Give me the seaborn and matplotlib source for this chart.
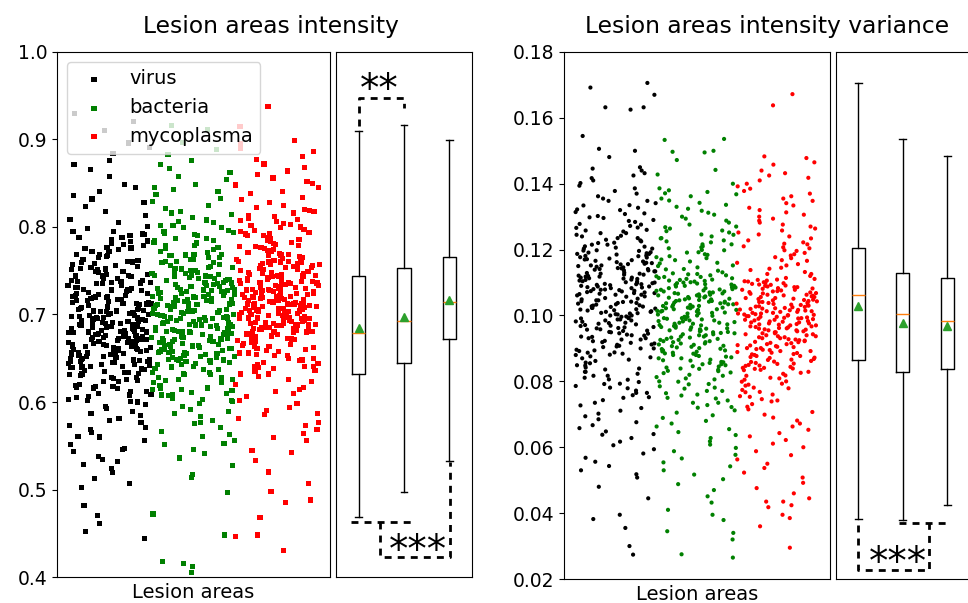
import numpy as np
import pandas as pd
import matplotlib
matplotlib.use("Agg")
import matplotlib.pyplot as plt
import seaborn as sns

groups = ["virus", "bacteria", "mycoplasma"]
colors = ["black", "green", "red"]

# lesion area intensity (thousandths)
# full spread of each strip
int_virus = [930, 921, 910, 896, 891, 884, 876, 871, 866, 858, 849, 845, 841, 836, 832, 828, 823, 818, 813, 809,
             805, 801, 798, 795, 791, 788, 786, 783, 780, 777, 775, 772, 769, 767, 765, 762, 760, 758, 756, 754,
             752, 751, 749, 748, 746, 745, 744, 779, 763, 790,
             743, 741, 738, 737, 735, 733, 731, 729, 728, 726, 724, 722, 721, 719, 717, 716, 714, 712, 711, 709,
             707, 706, 704, 703, 701, 700, 698, 697, 695, 694, 693, 691, 690, 689, 688, 686, 685, 684, 683, 682,
             681, 680, 739, 727, 718, 708, 699, 692, 687, 713,
             679, 677, 676, 674, 673, 672, 670, 669, 668, 666, 665, 664, 662, 661, 660, 659, 657, 656, 655, 653,
             652, 651, 650, 648, 647, 646, 645, 643, 642, 641, 640, 638, 637, 636, 635, 634, 633, 632, 675, 667,
             658, 649, 639, 671, 663, 654, 644, 678, 660, 646,
             631, 628, 626, 623, 620, 618, 615, 612, 609, 606, 603, 600, 597, 593, 589, 585, 581, 577, 573, 569,
             565, 561, 556, 551, 547, 543, 538, 534, 529, 524, 519, 513, 507, 502, 482, 470, 461, 452, 444, 625,
             617, 610, 602, 595, 587, 579, 571, 560, 546, 532]
int_bacteria = [916, 911, 897, 889, 883, 876, 871, 867, 862, 858, 854, 849, 845, 841, 837, 833, 829, 825, 821, 818,
                814, 811, 808, 805, 802, 799, 796, 793, 790, 787, 785, 782, 779, 777, 774, 772, 769, 767, 765, 763,
                761, 759, 757, 755, 754, 843, 816, 795, 781, 768,
                752, 750, 749, 747, 745, 744, 742, 740, 739, 737, 735, 734, 732, 731, 729, 727, 726, 724, 723, 721,
                720, 718, 717, 715, 714, 712, 711, 709, 708, 706, 705, 704, 702, 701, 700, 699, 698, 697, 696, 695,
                694, 746, 736, 728, 719, 710, 703, 741, 716, 725,
                693, 691, 690, 689, 687, 686, 685, 683, 682, 681, 679, 678, 677, 675, 674, 673, 671, 670, 669, 667,
                666, 665, 663, 662, 661, 659, 658, 657, 655, 654, 653, 651, 650, 649, 648, 647, 646, 645, 644, 688,
                676, 664, 652, 684, 672, 660, 692, 680, 668, 656,
                643, 640, 637, 634, 631, 628, 625, 622, 619, 616, 613, 610, 607, 604, 601, 598, 595, 591, 587, 583,
                579, 575, 571, 566, 561, 556, 551, 546, 541, 536, 527, 517, 514, 497, 472, 448, 418, 415, 412, 405,
                638, 626, 614, 602, 589, 577, 563, 553, 632, 608]
int_myco = [938, 915, 899, 895, 890, 886, 881, 877, 872, 868, 864, 860, 856, 852, 848, 845, 841, 838, 834, 831,
            828, 825, 822, 819, 816, 813, 810, 807, 804, 802, 799, 797, 794, 792, 790, 787, 785, 783, 781, 779,
            777, 775, 773, 771, 769, 767, 850, 820, 796, 778,
            765, 764, 763, 761, 760, 759, 758, 756, 755, 754, 753, 751, 750, 749, 748, 746, 745, 744, 742, 741,
            740, 739, 737, 736, 735, 733, 732, 731, 730, 728, 727, 726, 725, 724, 723, 722, 721, 720, 719, 718,
            717, 716, 715, 757, 747, 738, 729, 762, 743, 734,
            714, 713, 712, 711, 710, 709, 708, 707, 706, 705, 704, 703, 702, 701, 700, 699, 698, 697, 696, 695,
            694, 693, 692, 691, 690, 689, 688, 687, 686, 685, 684, 683, 682, 681, 680, 679, 678, 677, 676, 675,
            674, 673, 672, 711, 701, 690, 680, 707, 695, 685,
            671, 668, 665, 662, 659, 656, 653, 650, 647, 644, 641, 638, 635, 632, 629, 626, 623, 620, 617, 614,
            610, 606, 602, 598, 594, 590, 586, 581, 577, 573, 569, 564, 559, 556, 545, 542, 533, 520, 507, 498,
            488, 485, 468, 448, 446, 430, 660, 640, 612, 587]
# extra points in the crowded middle of each strip
int_virus_core = [601, 795, 612, 784, 623, 772, 634, 761, 641, 753, 648, 746, 652, 741, 657, 737, 661, 733, 664, 729,
                  667, 725, 670, 722, 673, 719, 676, 716, 678, 713, 681, 710, 683, 707, 686, 704, 688, 701, 690, 699,
                  692, 697, 694, 696, 605, 788, 616, 776, 627, 766, 637, 757, 645, 749, 650, 743, 655, 739, 659, 735,
                  662, 731, 666, 727, 669, 723, 672, 720, 675, 717, 677, 714, 680, 711, 682, 708, 685, 705, 687, 702,
                  689, 700, 691, 698, 693, 695, 608, 781, 619, 769, 630, 759, 639, 751, 646, 744, 654, 738, 663, 730,
                  671, 721, 679, 712, 684, 703, 618, 792, 628, 774, 643, 755, 658, 736, 668, 724, 674, 715, 686, 706]
int_bacteria_core = [603, 806, 614, 794, 626, 782, 637, 771, 645, 763, 652, 756, 658, 750, 663, 745, 667, 741, 671, 737,
                     675, 733, 678, 730, 681, 727, 684, 724, 687, 721, 690, 718, 693, 715, 696, 712, 699, 709, 701, 707,
                     703, 705, 608, 799, 619, 787, 631, 776, 641, 767, 649, 759, 655, 753, 661, 747, 665, 743, 669, 739,
                     673, 735, 677, 731, 680, 728, 683, 725, 686, 722, 689, 719, 692, 716, 695, 713, 698, 710, 700, 708,
                     702, 706, 611, 791, 622, 779, 634, 769, 643, 761, 651, 754, 657, 748, 666, 740, 674, 732, 682, 723,
                     688, 717, 697, 711, 616, 802, 628, 785, 647, 765, 660, 744, 670, 734, 679, 726, 691, 714]
int_myco_core = [632, 818, 641, 806, 650, 795, 658, 786, 664, 778, 670, 771, 675, 765, 679, 760, 683, 756, 687, 752,
                 690, 748, 693, 745, 696, 742, 699, 739, 702, 736, 704, 733, 707, 730, 709, 728, 711, 725, 713, 723,
                 715, 720, 717, 719, 636, 812, 645, 800, 654, 790, 661, 782, 667, 774, 672, 768, 677, 762, 681, 758,
                 685, 754, 688, 750, 692, 747, 695, 743, 698, 740, 700, 737, 703, 734, 706, 731, 708, 729, 710, 726,
                 712, 724, 714, 721, 716, 718, 639, 803, 648, 792, 656, 780, 663, 772, 669, 766, 676, 761, 684, 753,
                 691, 746, 697, 738, 705, 732, 643, 809, 653, 788, 666, 770, 680, 757, 689, 744, 701, 735, 712, 727]

# lesion area intensity variance (ten-thousandths)
var_virus = [1706, 1692, 1670, 1632, 1625, 1632, 1545, 1506, 1500, 1481, 1450, 1446, 1440, 1432, 1425, 1417, 1410,
             1402, 1394, 1386, 1378, 1370, 1362, 1355, 1348, 1341, 1334, 1327, 1320, 1314, 1308, 1302, 1296, 1290,
             1284, 1278, 1272, 1266, 1260, 1255, 1250, 1245, 1240, 1235, 1230, 1225, 1220, 1215, 1210, 1206,
             1203, 1198, 1196, 1191, 1189, 1185, 1181, 1180, 1176, 1171, 1170, 1166, 1162, 1159, 1157, 1152, 1150,
             1146, 1143, 1139, 1137, 1134, 1129, 1127, 1124, 1120, 1118, 1113, 1111, 1108, 1104, 1101, 1099, 1095,
             1092, 1088, 1086, 1083, 1079, 1077, 1074, 1071, 1068, 1066, 1063, 1187, 1141, 1096, 1155, 1115,
             1061, 1057, 1053, 1049, 1046, 1042, 1038, 1034, 1030, 1027, 1023, 1019, 1015, 1011, 1007, 1004, 1000,
             996, 992, 988, 985, 981, 977, 973, 969, 965, 962, 958, 954, 950, 946, 942, 939, 935, 931, 927, 923,
             919, 915, 912, 908, 904, 900, 896, 892, 888, 884, 880, 876, 870,
             862, 855, 848, 842, 836, 829, 823, 817, 811, 805, 798, 792, 786, 779, 772, 765, 758, 750, 743, 735,
             727, 719, 711, 702, 694, 685, 676, 667, 658, 648, 638, 628, 617, 606, 594, 581, 568, 556, 543, 530,
             518, 508, 480, 445, 395, 382, 355, 300, 274, 640]
var_bacteria = [1536, 1533, 1500, 1495, 1497, 1472, 1442, 1428, 1400, 1386, 1380, 1375, 1371, 1368, 1362, 1355,
                1349, 1342, 1336, 1330, 1324, 1318, 1312, 1306, 1300, 1294, 1288, 1282, 1276, 1270, 1264, 1258,
                1252, 1246, 1240, 1234, 1228, 1222, 1216, 1210, 1204, 1198, 1192, 1186, 1180, 1174, 1168, 1160,
                1150, 1140,
                1128, 1125, 1122, 1119, 1117, 1114, 1111, 1108, 1106, 1103, 1100, 1098, 1095, 1093, 1090, 1088,
                1085, 1083, 1080, 1078, 1075, 1073, 1070, 1068, 1066, 1063, 1061, 1058, 1056, 1054, 1051, 1049,
                1046, 1044, 1042, 1039, 1037, 1034, 1032, 1029, 1027, 1024, 1022, 1019, 1017, 1014, 1012, 1009,
                1007, 1006,
                1003, 999, 996, 992, 989, 985, 982, 978, 975, 971, 968, 964, 961, 957, 954, 950, 947, 943, 940,
                936, 933, 929, 926, 922, 919, 915, 912, 908, 905, 901, 898, 894, 891, 887, 884, 880, 877, 873,
                870, 866, 863, 859, 856, 852, 849, 845, 842, 838, 835, 831,
                827, 820, 813, 806, 799, 792, 785, 778, 771, 764, 757, 750, 742, 735, 728, 720, 712, 705, 697,
                689, 680, 672, 663, 655, 646, 637, 628, 618, 608, 598, 588, 577, 566, 554, 542, 530, 517, 503,
                488, 470, 451, 432, 410, 395, 379, 345, 340, 320, 275, 265]
var_myco = [1672, 1638, 1483, 1478, 1465, 1458, 1440, 1432, 1425, 1418, 1410, 1400, 1392, 1385, 1378, 1370, 1362,
            1355, 1348, 1341, 1334, 1327, 1320, 1313, 1306, 1300, 1294, 1288, 1282, 1276, 1270, 1264, 1258, 1252,
            1246, 1240, 1234, 1228, 1222, 1216, 1210, 1204, 1198, 1190, 1182, 1174, 1166, 1156, 1142, 1126,
            1111, 1108, 1106, 1103, 1101, 1098, 1096, 1093, 1091, 1088, 1086, 1083, 1081, 1078, 1076, 1073, 1071,
            1068, 1066, 1063, 1061, 1058, 1056, 1053, 1051, 1048, 1046, 1043, 1041, 1038, 1036, 1033, 1031, 1028,
            1026, 1023, 1021, 1018, 1016, 1013, 1011, 1008, 1006, 1003, 1001, 998, 996, 993, 990, 987,
            982, 979, 976, 973, 970, 967, 964, 961, 958, 955, 952, 949, 946, 943, 940, 937, 934, 931, 928, 925,
            922, 919, 916, 913, 910, 907, 904, 901, 898, 895, 892, 889, 886, 883, 880, 877, 874, 871, 868, 865,
            862, 859, 856, 853, 850, 847, 844, 841, 839, 838,
            835, 829, 823, 817, 811, 805, 799, 793, 787, 781, 774, 767, 760, 753, 746, 739, 731, 723, 715, 707,
            699, 690, 681, 672, 663, 653, 643, 633, 622, 611, 600, 588, 576, 563, 550, 537, 523, 508, 492, 476,
            460, 445, 435, 435, 424, 418, 395, 385, 360, 295]
var_virus_core = [752, 1348, 781, 1322, 806, 1298, 829, 1276, 849, 1258, 866, 1242, 881, 1228, 894, 1215, 906, 1203,
                  917, 1192, 927, 1182, 936, 1173, 945, 1164, 953, 1156, 961, 1148, 968, 1141, 975, 1134, 982, 1127,
                  988, 1121, 994, 1115, 1000, 1109, 1006, 1103, 1011, 1098, 1016, 1093, 1021, 1088, 1026, 1083,
                  1031, 1078, 1036, 1073, 1041, 1068, 1046, 1063, 1051, 1058, 765, 1335, 793, 1310, 817, 1287, 839,
                  1267, 857, 1250, 873, 1235, 887, 1221, 900, 1209, 911, 1197, 922, 1187, 931, 1177, 940, 1168, 949,
                  1160, 957, 1152, 964, 1144, 971, 1137, 978, 1130, 985, 1124, 991, 1118, 997, 1112, 1003, 1106,
                  1008, 1100, 1013, 1095, 1018, 1090, 1023, 1085, 1028, 1080, 1033, 1075, 1038, 1070, 1043, 1065]
var_bacteria_core = [722, 1268, 748, 1245, 771, 1225, 791, 1207, 809, 1191, 825, 1177, 839, 1164, 852, 1152, 864,
                     1141, 875, 1131, 885, 1122, 894, 1113, 903, 1105, 911, 1097, 919, 1090, 926, 1083, 933, 1076,
                     940, 1070, 946, 1064, 952, 1058, 958, 1052, 963, 1047, 968, 1042, 973, 1037, 978, 1032, 983,
                     1027, 988, 1022, 992, 1017, 996, 1012, 1000, 1008, 735, 1256, 760, 1235, 781, 1216, 800, 1199,
                     817, 1184, 832, 1170, 846, 1158, 858, 1146, 870, 1136, 880, 1126, 890, 1117, 899, 1109, 907,
                     1101, 915, 1094, 922, 1086, 929, 1079, 936, 1073, 943, 1067, 949, 1061, 955, 1055, 960, 1049,
                     965, 1044, 970, 1039, 975, 1034, 980, 1029, 985, 1024, 990, 1019, 994, 1014]
var_myco_core = [742, 1218, 768, 1196, 790, 1177, 809, 1160, 826, 1145, 841, 1132, 854, 1120, 866, 1109, 877, 1099,
                 887, 1090, 896, 1082, 905, 1074, 913, 1067, 920, 1060, 927, 1053, 934, 1047, 940, 1041, 946, 1035,
                 952, 1030, 957, 1025, 962, 1020, 967, 1015, 972, 1011, 976, 1006, 981, 1002, 985, 998, 989, 994,
                 755, 1207, 779, 1186, 800, 1168, 818, 1152, 834, 1138, 848, 1126, 860, 1114, 872, 1104, 882, 1094,
                 892, 1086, 901, 1078, 909, 1070, 917, 1063, 924, 1056, 931, 1050, 937, 1044, 943, 1038, 949, 1032,
                 955, 1027, 960, 1022, 965, 1017, 970, 1013, 974, 1008, 979, 1004, 983, 1000, 987, 996, 991, 992]

# box plot summaries
int_whislo = [0.469, 0.497, 0.533]
int_q1 = [0.632, 0.644, 0.672]
int_med = [0.679, 0.693, 0.714]
int_mean = [0.685, 0.697, 0.716]
int_q3 = [0.744, 0.753, 0.766]
int_whishi = [0.910, 0.916, 0.899]

var_whislo = [0.0382, 0.0379, 0.0424]
var_q1 = [0.0865, 0.0829, 0.0837]
var_med = [0.1062, 0.1005, 0.0984]
var_mean = [0.1030, 0.0976, 0.0969]
var_q3 = [0.1204, 0.1130, 0.1113]
var_whishi = [0.1706, 0.1536, 0.1483]


def long_df(vals, scale):
    return pd.DataFrame({"group": np.repeat(groups, [len(v) for v in vals]),
                         "value": np.concatenate(vals) / scale})


def box_stats(lo, q1, med, mean, q3, hi):
    return [dict(whislo=a, q1=b, med=c, mean=d, q3=e, whishi=f, fliers=[])
            for a, b, c, d, e, f in zip(lo, q1, med, mean, q3, hi)]


df_int = long_df([int_virus + int_virus_core, int_bacteria + int_bacteria_core,
                  int_myco + int_myco_core], 1000.0)
df_var = long_df([var_virus + var_virus_core, var_bacteria + var_bacteria_core,
                  var_myco + var_myco_core], 10000.0)

fig = plt.figure(figsize=(9.68, 6.03), dpi=100)
ax1 = fig.add_axes([0.0589, 0.0431, 0.2820, 0.8707])
ax1b = fig.add_axes([0.3471, 0.0431, 0.1405, 0.8707])
ax2 = fig.add_axes([0.5826, 0.0398, 0.2748, 0.8740])
ax2b = fig.add_axes([0.8636, 0.0398, 0.1379, 0.8740])

dash = (0, (2.5, 2.2))
np.random.seed(7)

# left: intensity
sns.stripplot(data=df_int, x="group", y="value", hue="group", order=groups, hue_order=groups,
              palette=colors, jitter=0.5, marker="s", size=3.7, linewidth=0, ax=ax1, legend=False)
ax1.set_xlim(-0.63, 2.63)
ax1.set_ylim(0.4, 1.0)
ax1.set_yticks([0.4, 0.5, 0.6, 0.7, 0.8, 0.9, 1.0])
ax1.set_yticklabels(["0.4", "0.5", "0.6", "0.7", "0.8", "0.9", "1.0"])
ax1.set_xticks([])
ax1.set_ylabel("")
ax1.set_xlabel("Lesion areas", fontsize=14)
ax1.tick_params(labelsize=13.5)
ax1.legend(ax1.collections[:3], groups, loc="upper left", fontsize=14)

ax1b.bxp(box_stats(int_whislo, int_q1, int_med, int_mean, int_q3, int_whishi),
         positions=[1, 2, 3], widths=0.3, showmeans=True, showfliers=False)
ax1b.set_xlim(0.5, 3.5)
ax1b.set_ylim(0.4, 1.0)
ax1b.set_xticks([])
ax1b.set_yticks([])
ax1b.plot([1, 1, 2, 2], [0.915, 0.947, 0.947, 0.936], color="k", lw=2, ls=dash)
ax1b.text(1.45, 0.957, "**", ha="center", va="center", fontsize=28)
ax1b.plot([0.83, 2.2], [0.463, 0.463], color="k", lw=2, ls=dash)
ax1b.plot([1.48, 1.48, 3.02, 3.02], [0.463, 0.4225, 0.4225, 0.532], color="k", lw=2, ls=dash)
ax1b.text(2.30, 0.4295, "***", ha="center", va="center", fontsize=28)

# right: intensity variance
sns.stripplot(data=df_var, x="group", y="value", hue="group", order=groups, hue_order=groups,
              palette=colors, jitter=0.5, marker="o", size=3.0, linewidth=0, ax=ax2, legend=False)
ax2.set_xlim(-0.64, 2.66)
ax2.set_ylim(0.02, 0.18)
ticks = [0.02, 0.04, 0.06, 0.08, 0.10, 0.12, 0.14, 0.16, 0.18]
ax2.set_yticks(ticks)
ax2.set_yticklabels([f"{t:.2f}" for t in ticks])
ax2.set_xticks([])
ax2.set_ylabel("")
ax2.set_xlabel("Lesion areas", fontsize=14)
ax2.tick_params(labelsize=13.5)

ax2b.bxp(box_stats(var_whislo, var_q1, var_med, var_mean, var_q3, var_whishi),
         positions=[1, 2, 3], widths=0.3, showmeans=True, showfliers=False)
ax2b.set_xlim(0.5, 3.5)
ax2b.set_ylim(0.02, 0.18)
ax2b.set_xticks([])
ax2b.set_yticks([])
ax2b.plot([1, 1, 2.59, 2.59], [0.0365, 0.0228, 0.0228, 0.0371], color="k", lw=2, ls=dash)
ax2b.plot([1.91, 3.05], [0.0371, 0.0371], color="k", lw=2, ls=dash)
ax2b.text(1.90, 0.0250, "***", ha="center", va="center", fontsize=28)

fig.text(0.280, 1 - 27 / 603, "Lesion areas intensity", ha="center", va="center", fontsize=16.8)
fig.text(0.7924, 1 - 27 / 603, "Lesion areas intensity variance", ha="center", va="center", fontsize=16.8)

fig.savefig("out.png", dpi=100)
